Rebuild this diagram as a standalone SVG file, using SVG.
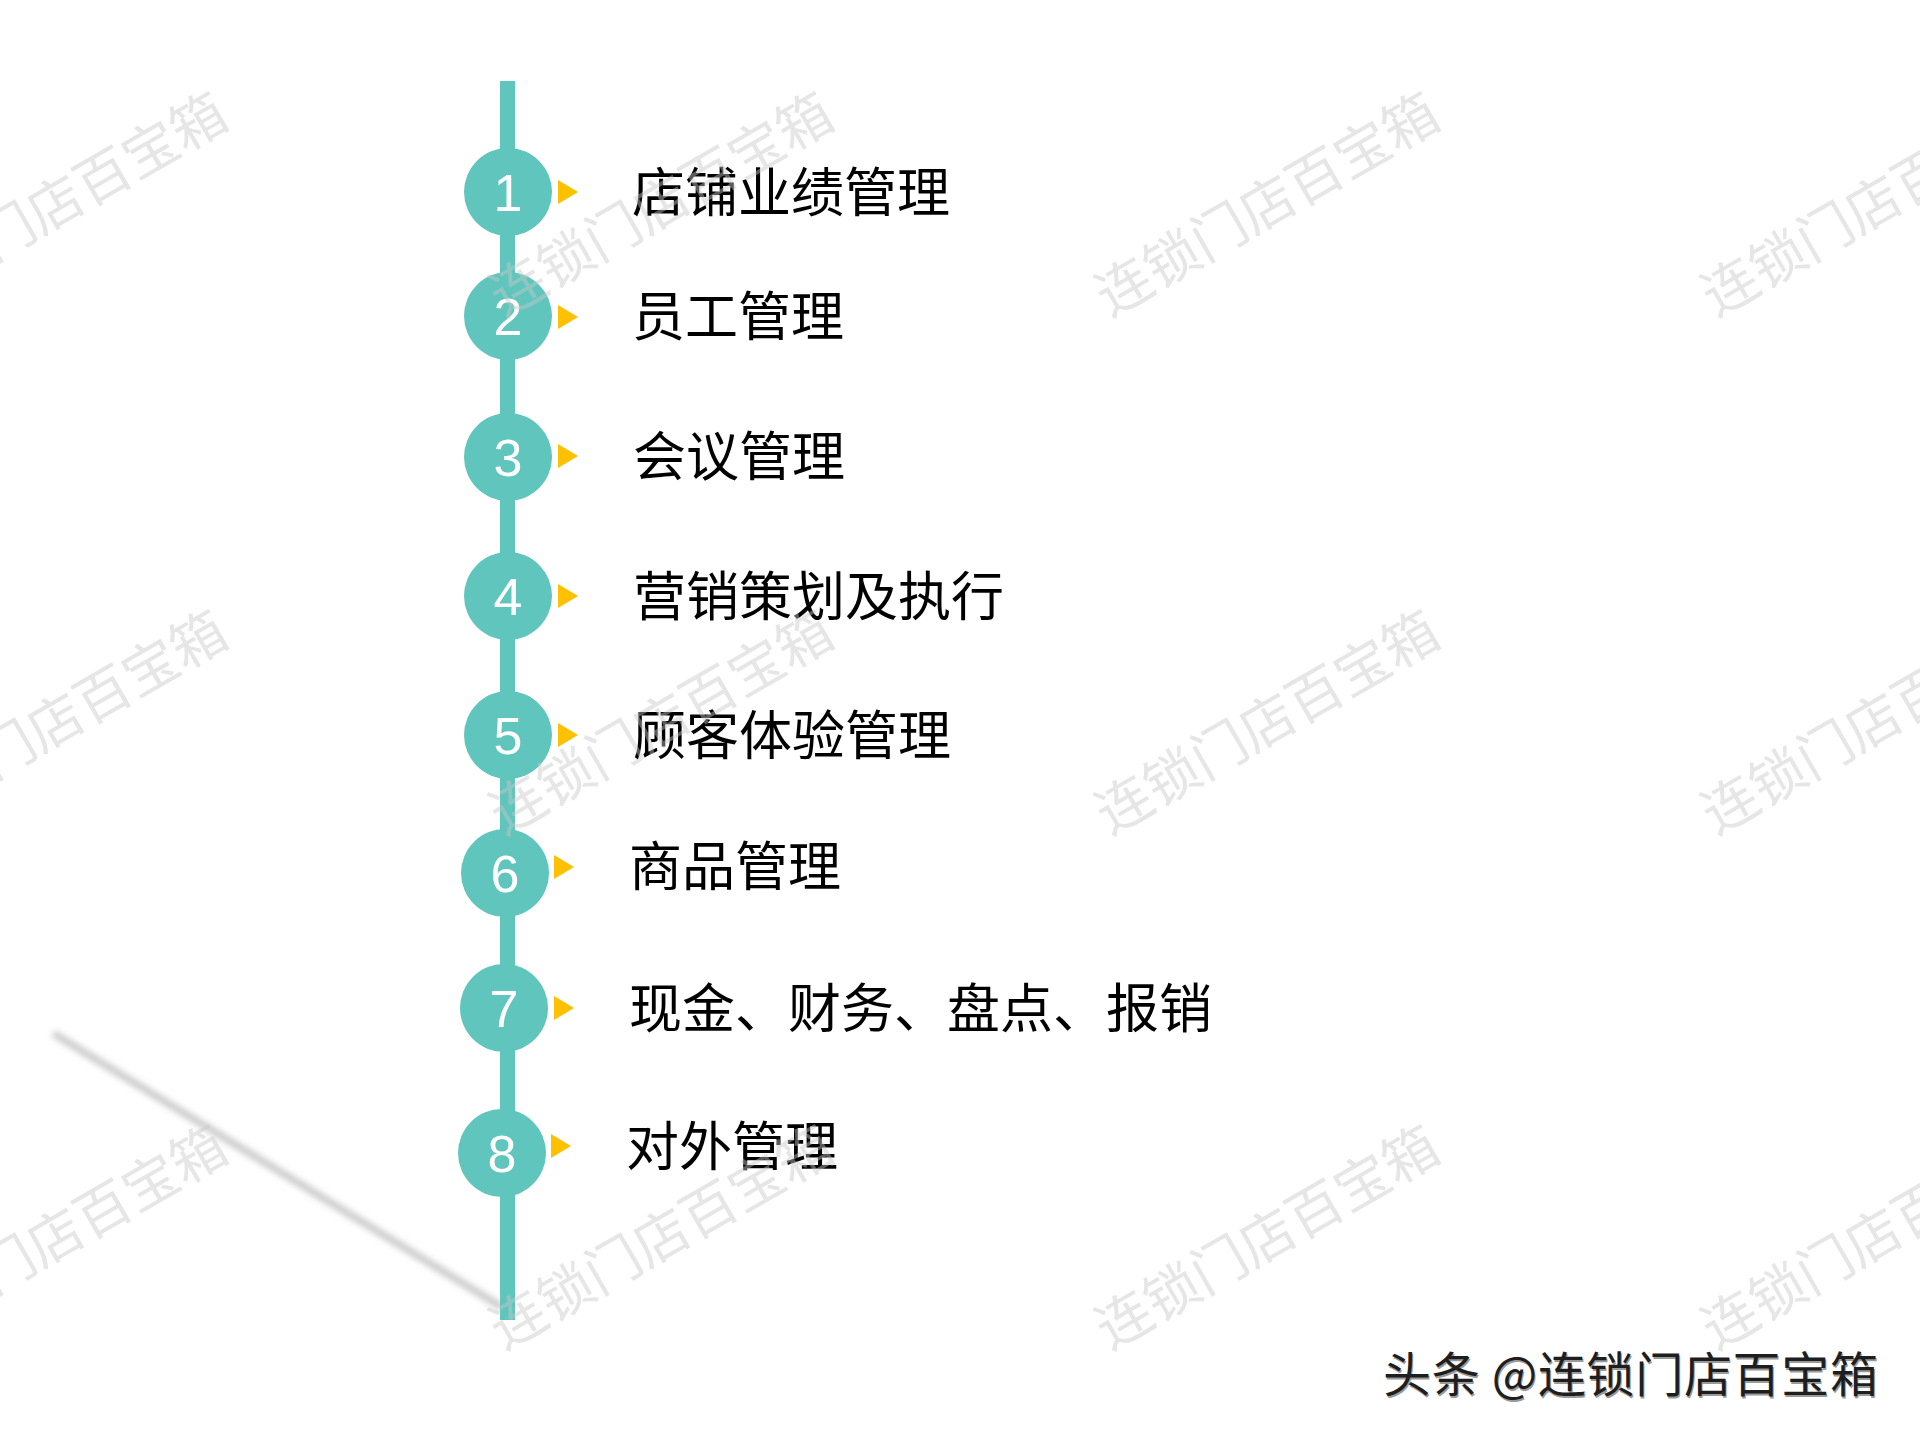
<svg xmlns="http://www.w3.org/2000/svg" width="1920" height="1440" viewBox="0 0 1920 1440">
  <defs>
    <style>
      .dot { fill: #5FC5BD; }
      .num { font-family: "Liberation Sans", Arial, sans-serif; font-size: 52px; fill: #ffffff; text-anchor: middle; }
      .tri { fill: #FFC000; }
      .lbl { font-family: "Noto Sans CJK SC", "Noto Sans", sans-serif; font-size: 53px; fill: #000000; }
      .wm { font-family: "Noto Sans CJK SC", sans-serif; font-size: 55px; fill: #c8c8c8; fill-opacity: 0.45; text-anchor: middle; }
      .credit { font-family: "Noto Sans CJK SC", sans-serif; font-size: 48px; }
    </style>
    <filter id="blur" x="-10%" y="-10%" width="120%" height="120%">
      <feGaussianBlur stdDeviation="3"/>
    </filter>
    <polygon id="arrow" points="0,-12 20,0 0,12"/>
  </defs>

  <rect width="1920" height="1440" fill="#ffffff"/>

  <!-- shadow stroke -->
  <line x1="56" y1="1035" x2="500" y2="1306" stroke="#c8c8c8" stroke-width="7" stroke-linecap="round" filter="url(#blur)"/>

  <!-- connectors: vertical spine -->
  <g id="connectors">
    <rect x="500" y="81" width="15" height="1239" fill="#5FC5BD"/>
  </g>

  <g id="node-1">
    <circle class="dot" cx="508" cy="192" r="44"/>
    <text class="num" x="508" y="211">1</text>
    <use href="#arrow" class="tri" x="558" y="192"/>
    <text class="lbl" x="632" y="212">店铺业绩管理</text>
  </g>
  <g id="node-2">
    <circle class="dot" cx="508" cy="316" r="44"/>
    <text class="num" x="508" y="335">2</text>
    <use href="#arrow" class="tri" x="558" y="317"/>
    <text class="lbl" x="632" y="336">员工管理</text>
  </g>
  <g id="node-3">
    <circle class="dot" cx="508" cy="457" r="44"/>
    <text class="num" x="508" y="476">3</text>
    <use href="#arrow" class="tri" x="558" y="456"/>
    <text class="lbl" x="633" y="476">会议管理</text>
  </g>
  <g id="node-4">
    <circle class="dot" cx="508" cy="596" r="44"/>
    <text class="num" x="508" y="615">4</text>
    <use href="#arrow" class="tri" x="558" y="596"/>
    <text class="lbl" x="633" y="616">营销策划及执行</text>
  </g>
  <g id="node-5">
    <circle class="dot" cx="508" cy="735" r="44"/>
    <text class="num" x="508" y="754">5</text>
    <use href="#arrow" class="tri" x="558" y="735"/>
    <text class="lbl" x="633" y="755">顾客体验管理</text>
  </g>
  <g id="node-6">
    <circle class="dot" cx="505" cy="873" r="44"/>
    <text class="num" x="505" y="892">6</text>
    <use href="#arrow" class="tri" x="554" y="867"/>
    <text class="lbl" x="629" y="886">商品管理</text>
  </g>
  <g id="node-7">
    <circle class="dot" cx="504" cy="1008" r="44"/>
    <text class="num" x="504" y="1027">7</text>
    <use href="#arrow" class="tri" x="554" y="1008"/>
    <text class="lbl" x="629" y="1028">现金、财务、盘点、报销</text>
  </g>
  <g id="node-8">
    <circle class="dot" cx="502" cy="1153" r="44"/>
    <text class="num" x="502" y="1172">8</text>
    <use href="#arrow" class="tri" x="551" y="1146"/>
    <text class="lbl" x="626" y="1166">对外管理</text>
  </g>

  <!-- watermarks -->
  <g id="watermarks">
    <text class="wm" transform="translate(55,204) rotate(-30)" y="20">连锁门店百宝箱</text>
    <text class="wm" transform="translate(661,204) rotate(-30)" y="20">连锁门店百宝箱</text>
    <text class="wm" transform="translate(1267,204) rotate(-30)" y="20">连锁门店百宝箱</text>
    <text class="wm" transform="translate(1873,204) rotate(-30)" y="20">连锁门店百宝箱</text>
    <text class="wm" transform="translate(55,722) rotate(-30)" y="20">连锁门店百宝箱</text>
    <text class="wm" transform="translate(661,722) rotate(-30)" y="20">连锁门店百宝箱</text>
    <text class="wm" transform="translate(1267,722) rotate(-30)" y="20">连锁门店百宝箱</text>
    <text class="wm" transform="translate(1873,722) rotate(-30)" y="20">连锁门店百宝箱</text>
    <text class="wm" transform="translate(55,1237) rotate(-30)" y="20">连锁门店百宝箱</text>
    <text class="wm" transform="translate(661,1237) rotate(-30)" y="20">连锁门店百宝箱</text>
    <text class="wm" transform="translate(1267,1237) rotate(-30)" y="20">连锁门店百宝箱</text>
    <text class="wm" transform="translate(1873,1237) rotate(-30)" y="20">连锁门店百宝箱</text>
  </g>

  <!-- credit -->
  <g id="credit">
    <text class="credit" x="1384" y="1394" fill="#9a9a9a" textLength="495" lengthAdjust="spacing">头条 @连锁门店百宝箱</text>
    <text class="credit" x="1383" y="1392" fill="#1e1e1e" textLength="495" lengthAdjust="spacing">头条 @连锁门店百宝箱</text>
  </g>
</svg>
